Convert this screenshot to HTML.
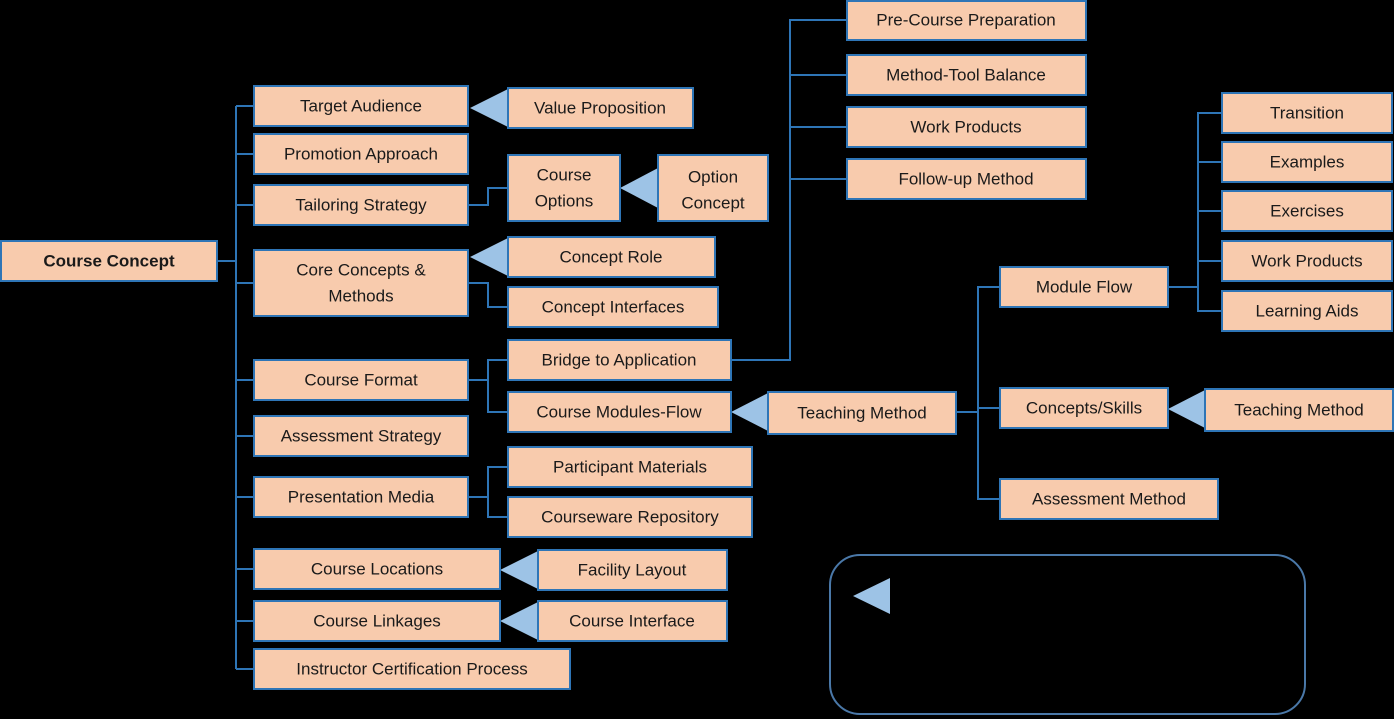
<!DOCTYPE html>
<html><head><meta charset="utf-8"><style>
html,body{margin:0;padding:0;background:#000;width:1394px;height:719px;overflow:hidden}
svg text{font-family:"Liberation Sans",sans-serif;font-size:17px;fill:#1a1a1a;text-anchor:middle;dominant-baseline:central}
rect.b{fill:#f8cbad;stroke:#2e75b6;stroke-width:2}
polyline,line{stroke:#2e75b6;stroke-width:2;fill:none}
polygon{fill:#9dc3e6}
</style></head><body>
<svg width="1394" height="719" xmlns="http://www.w3.org/2000/svg">
<!-- connectors -->
<line x1="236" y1="106" x2="236" y2="669"/>
<line x1="217" y1="261" x2="236" y2="261"/>
<line x1="236" y1="106" x2="254" y2="106"/>
<line x1="236" y1="154" x2="254" y2="154"/>
<line x1="236" y1="205" x2="254" y2="205"/>
<line x1="236" y1="283" x2="254" y2="283"/>
<line x1="236" y1="380" x2="254" y2="380"/>
<line x1="236" y1="436" x2="254" y2="436"/>
<line x1="236" y1="497" x2="254" y2="497"/>
<line x1="236" y1="569" x2="254" y2="569"/>
<line x1="236" y1="621" x2="254" y2="621"/>
<line x1="236" y1="669" x2="254" y2="669"/>
<polyline points="468,205 488,205 488,188 508,188"/>
<polyline points="468,283 488,283 488,307 508,307"/>
<polyline points="468,380 488,380"/>
<polyline points="508,360 488,360 488,412 508,412"/>
<polyline points="468,497 488,497"/>
<polyline points="508,467 488,467 488,517 508,517"/>
<polyline points="731,360 790,360 790,20 847,20"/>
<line x1="790" y1="75" x2="847" y2="75"/>
<line x1="790" y1="127" x2="847" y2="127"/>
<line x1="790" y1="179" x2="847" y2="179"/>
<polyline points="956,412 978,412"/>
<polyline points="1000,287 978,287 978,499 1000,499"/>
<line x1="978" y1="408" x2="1000" y2="408"/>
<polyline points="1168,287 1198,287"/>
<polyline points="1222,113 1198,113 1198,311 1222,311"/>
<line x1="1198" y1="162" x2="1222" y2="162"/>
<line x1="1198" y1="211" x2="1222" y2="211"/>
<line x1="1198" y1="261" x2="1222" y2="261"/>
<!-- triangles -->
<polygon points="470,108 508,89 508,127"/>
<polygon points="620,188 658,168 658,208"/>
<polygon points="470,257 508,238 508,276"/>
<polygon points="731,412 768,393 768,431"/>
<polygon points="1168,409 1205,390 1205,428"/>
<polygon points="500,570 538,551 538,589"/>
<polygon points="500,621 538,602 538,640"/>
<polygon points="853,596 890,578 890,614"/>
<rect x="830" y="555" width="475" height="159" rx="30" fill="none" stroke="#4a78a8" stroke-width="2"/>
<!-- boxes -->
<rect class="b" x="1" y="241" width="216" height="40"/><text x="109" y="261" style="font-weight:bold">Course Concept</text>
<rect class="b" x="254" y="86" width="214" height="40"/><text x="361" y="106">Target Audience</text>
<rect class="b" x="254" y="134" width="214" height="40"/><text x="361" y="154">Promotion Approach</text>
<rect class="b" x="254" y="185" width="214" height="40"/><text x="361" y="205">Tailoring Strategy</text>
<rect class="b" x="254" y="250" width="214" height="66"/><text x="361" y="270">Core Concepts &amp;</text><text x="361" y="296">Methods</text>
<rect class="b" x="254" y="360" width="214" height="40"/><text x="361" y="380">Course Format</text>
<rect class="b" x="254" y="416" width="214" height="40"/><text x="361" y="436">Assessment Strategy</text>
<rect class="b" x="254" y="477" width="214" height="40"/><text x="361" y="497">Presentation Media</text>
<rect class="b" x="254" y="549" width="246" height="40"/><text x="377" y="569">Course Locations</text>
<rect class="b" x="254" y="601" width="246" height="40"/><text x="377" y="621">Course Linkages</text>
<rect class="b" x="254" y="649" width="316" height="40"/><text x="412" y="669">Instructor Certification Process</text>
<rect class="b" x="508" y="88" width="185" height="40"/><text x="600" y="108">Value Proposition</text>
<rect class="b" x="508" y="155" width="112" height="66"/><text x="564" y="175">Course</text><text x="564" y="201">Options</text>
<rect class="b" x="658" y="155" width="110" height="66"/><text x="713" y="177">Option</text><text x="713" y="203">Concept</text>
<rect class="b" x="508" y="237" width="207" height="40"/><text x="611" y="257">Concept Role</text>
<rect class="b" x="508" y="287" width="210" height="40"/><text x="613" y="307">Concept Interfaces</text>
<rect class="b" x="508" y="340" width="223" height="40"/><text x="619" y="360">Bridge to Application</text>
<rect class="b" x="508" y="392" width="223" height="40"/><text x="619" y="412">Course Modules-Flow</text>
<rect class="b" x="508" y="447" width="244" height="40"/><text x="630" y="467">Participant Materials</text>
<rect class="b" x="508" y="497" width="244" height="40"/><text x="630" y="517">Courseware Repository</text>
<rect class="b" x="538" y="550" width="189" height="40"/><text x="632" y="570">Facility Layout</text>
<rect class="b" x="538" y="601" width="189" height="40"/><text x="632" y="621">Course Interface</text>
<rect class="b" x="847" y="1" width="239" height="39"/><text x="966" y="20">Pre-Course Preparation</text>
<rect class="b" x="847" y="55" width="239" height="40"/><text x="966" y="75">Method-Tool Balance</text>
<rect class="b" x="847" y="107" width="239" height="40"/><text x="966" y="127">Work Products</text>
<rect class="b" x="847" y="159" width="239" height="40"/><text x="966" y="179">Follow-up Method</text>
<rect class="b" x="768" y="392" width="188" height="42"/><text x="862" y="413">Teaching Method</text>
<rect class="b" x="1000" y="267" width="168" height="40"/><text x="1084" y="287">Module Flow</text>
<rect class="b" x="1000" y="388" width="168" height="40"/><text x="1084" y="408">Concepts/Skills</text>
<rect class="b" x="1000" y="479" width="218" height="40"/><text x="1109" y="499">Assessment Method</text>
<rect class="b" x="1205" y="389" width="188" height="42"/><text x="1299" y="410">Teaching Method</text>
<rect class="b" x="1222" y="93" width="170" height="40"/><text x="1307" y="113">Transition</text>
<rect class="b" x="1222" y="142" width="170" height="40"/><text x="1307" y="162">Examples</text>
<rect class="b" x="1222" y="191" width="170" height="40"/><text x="1307" y="211">Exercises</text>
<rect class="b" x="1222" y="241" width="170" height="40"/><text x="1307" y="261">Work Products</text>
<rect class="b" x="1222" y="291" width="170" height="40"/><text x="1307" y="311">Learning Aids</text>
</svg>
</body></html>
